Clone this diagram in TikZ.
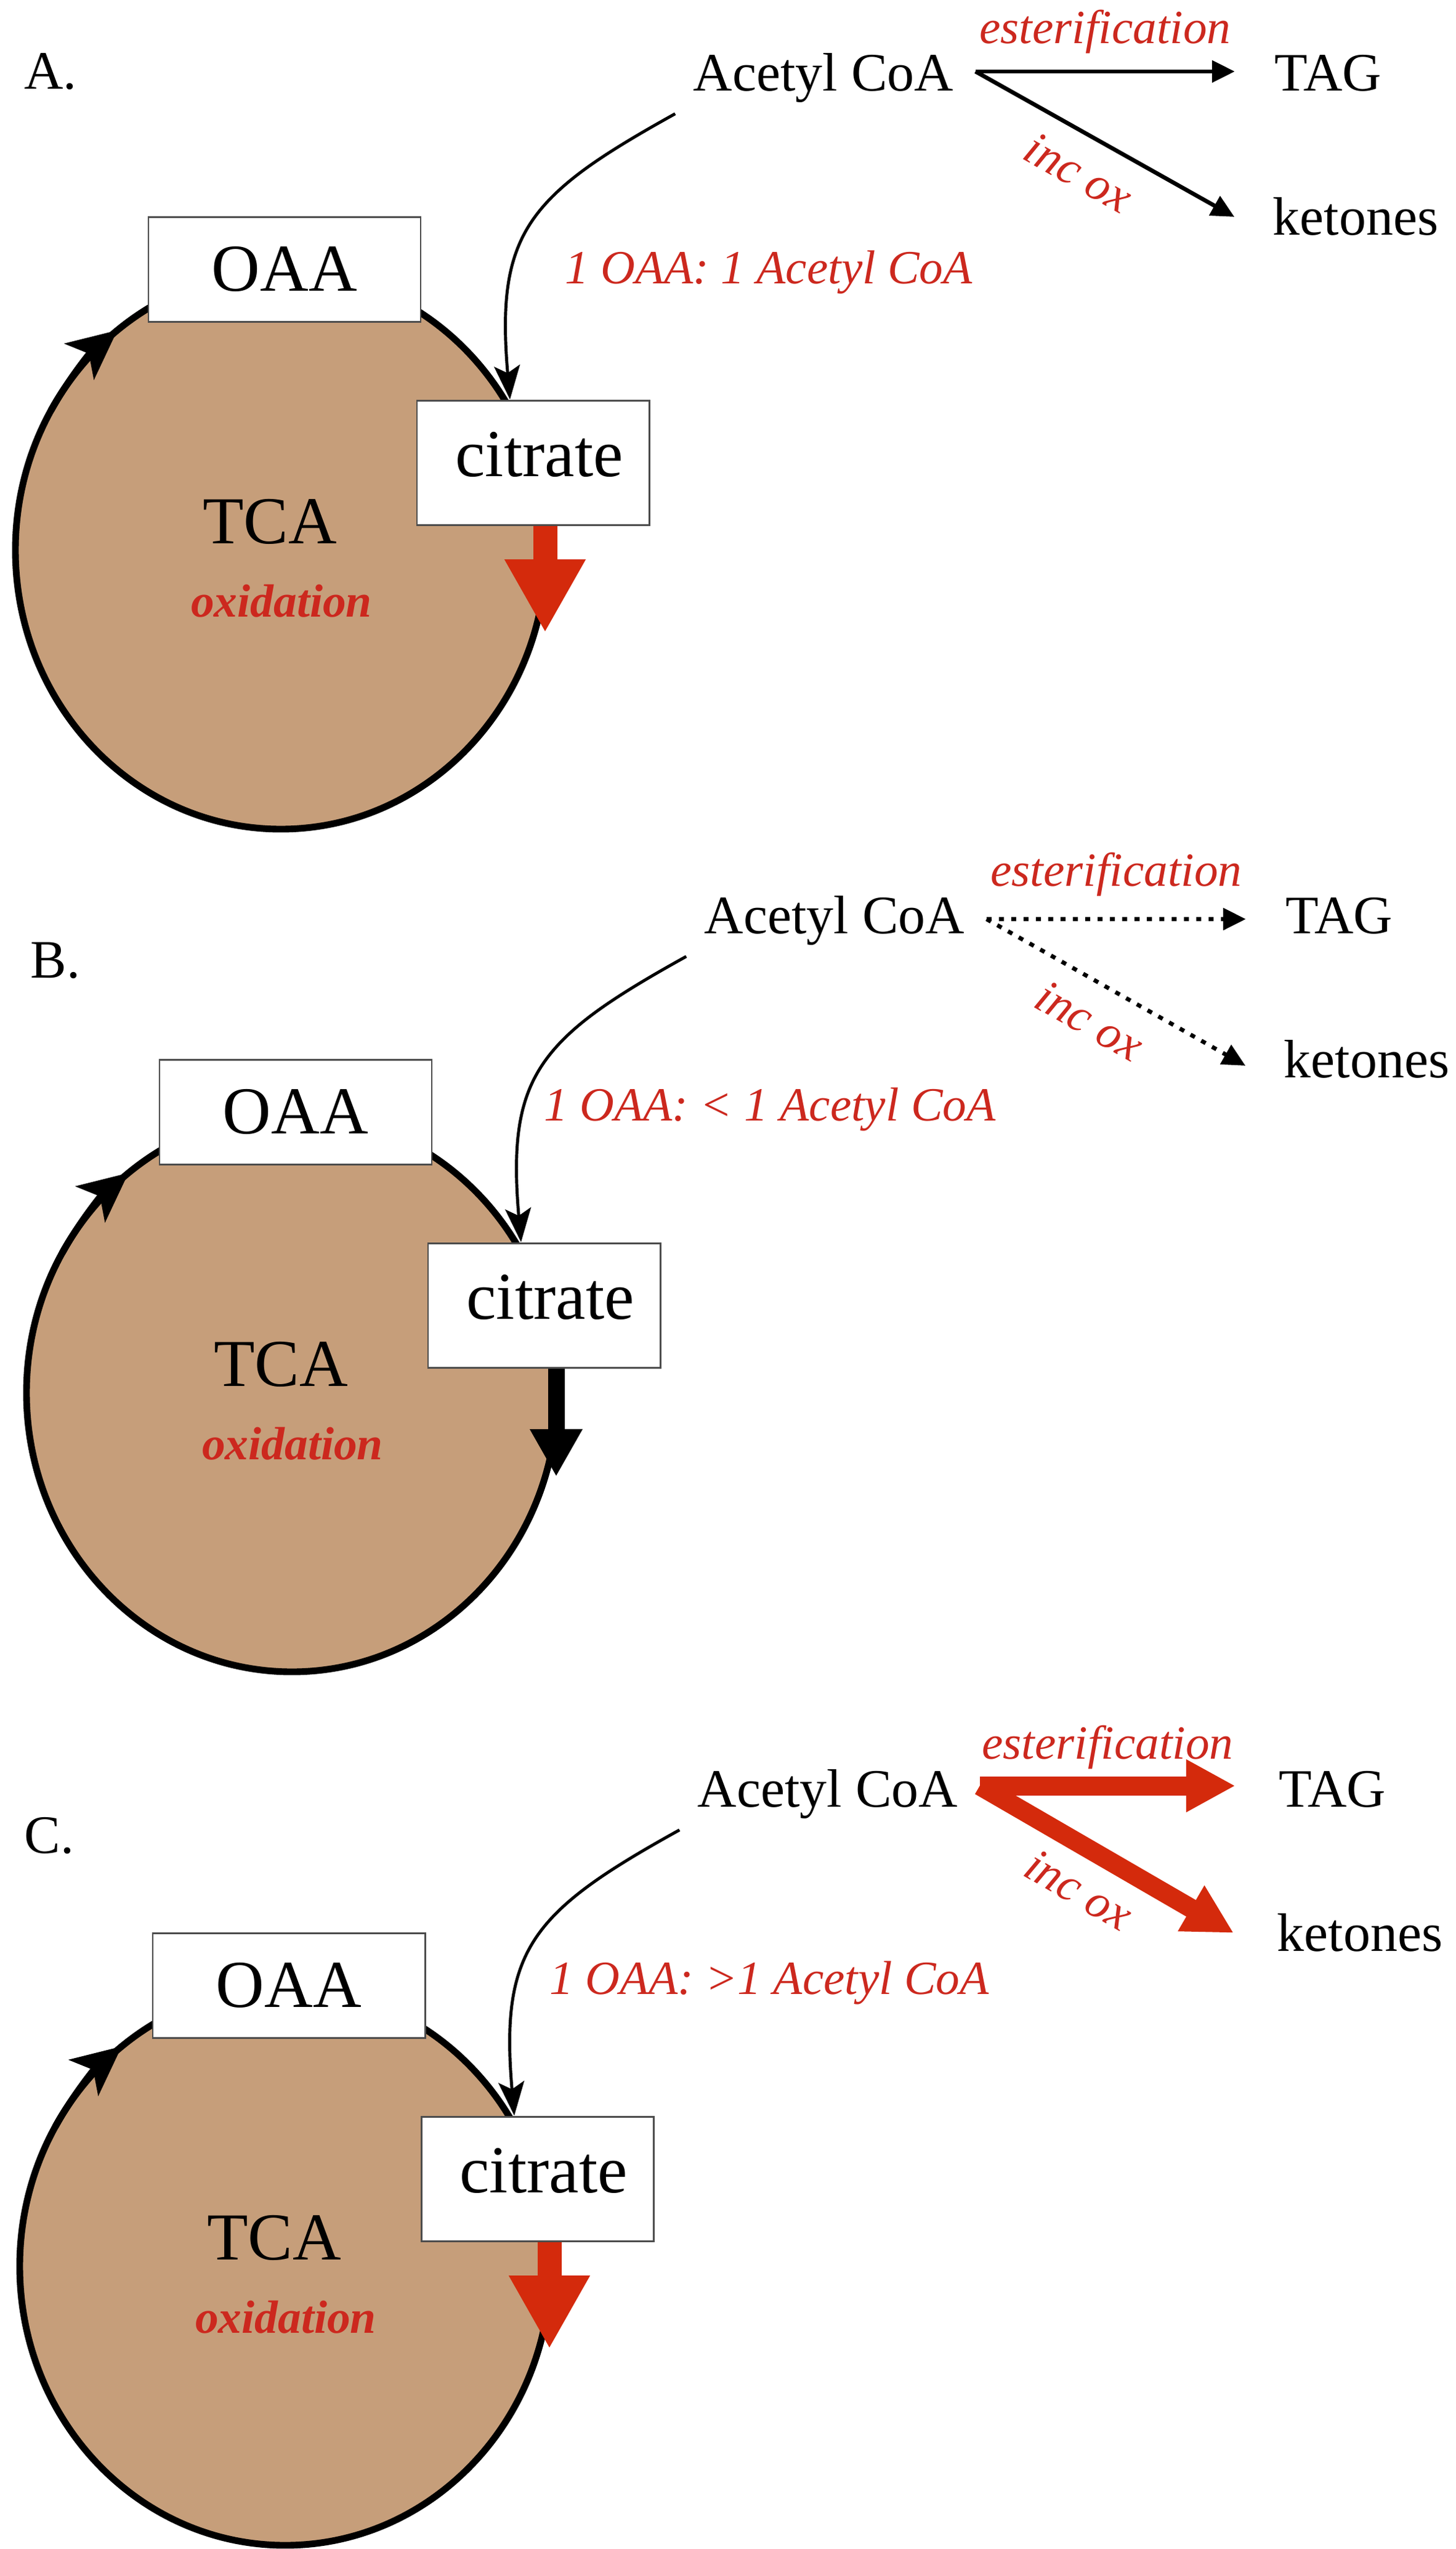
\documentclass[tikz,border=0pt]{standalone}
\usepackage{fontspec}
\setmainfont{Liberation Serif}
\usetikzlibrary{
        arrows.meta,
        positioning
    }
\definecolor{tcabrown}{RGB}{198,158,122}
\definecolor{lblred}{RGB}{204,40,30}
\definecolor{arrred}{RGB}{212,42,12}
\tikzset{>=Stealth,node distance=1cm}
\tikzset{
    tcacycle/.style={draw=black,line width=3.1pt,fill=tcabrown},
    cyclehead/.style={line width=3.1pt,-{Stealth[length=0.8cm,width=0.75cm,inset=0.2cm]}},
    metab/.style={draw=black!70,line width=0.85pt,fill=white,inner sep=0pt,font=\fontsize{31}{36}\selectfont},
    cpd/.style={inner sep=0pt,font=\fontsize{25}{30}\selectfont},
    redlbl/.style={inner sep=0pt,text=lblred,font=\fontsize{22}{26}\selectfont\itshape},
    oxlbl/.style={inner sep=0pt,text=lblred,font=\fontsize{21.5}{26}\selectfont\bfseries\itshape},
    feed/.style={line width=1.4pt,-{Stealth[length=0.55cm,width=0.42cm,inset=0.12cm]}},
    flux/.style={line width=1.9pt,-{Triangle[length=0.37cm,width=0.35cm]}},
    dotflux/.style={flux,dash pattern=on 2.3pt off 3.4pt},
    bigflux/.style={color=arrred,line width=0.31cm,-{Triangle[length=0.8cm,width=0.8cm]}},
    outred/.style={color=arrred,line width=0.39cm,-{Triangle[length=1.19cm,width=1.23cm]}},
    outblack/.style={color=black,line width=0.27cm,-{Triangle[length=0.77cm,width=0.8cm]}}
}

\begin{document}
\begin{tikzpicture}
    \useasboundingbox (0,0) rectangle (23.63,-41.38);
    % panel A
    \begin{scope}
        \draw[tcacycle] (4.56,-8.93) ellipse [x radius=4.31, y radius=4.53];
        \draw[cyclehead] (4.56,-8.93) ++(150:4.31cm and 4.53cm) arc [start angle=150, end angle=128, x radius=4.31, y radius=4.53];
        \node[cpd] (lab1) at (0.82,-1.16) {A.};
        \node[metab,minimum width=4.42cm,minimum height=1.70cm] (oaa1) at (4.62,-4.37) {OAA\hspace{0.8cm}};
        \node[metab,minimum width=3.77cm,minimum height=2.02cm,text depth=0.27cm] (cit1) at (8.655,-7.51) {\hspace{0.2cm}citrate};
        \node[metab,draw=none,fill=none] (tca1) at (4.38,-8.47) {TCA};
        \node[oxlbl] (ox1) [below=0.63cm of tca1,xshift=0.19cm] {oxidation};
        \node[cpd] (aco1) at (13.37,-1.26) {Acetyl CoA};
        \node[cpd] (tag1) [right=5.2cm of aco1,yshift=0.07cm] {TAG};
        \node[cpd] (ket1) at (22.01,-3.51) {ketones};
        \node[redlbl] (rat1) at (12.48,-4.42) {1 OAA: 1 Acetyl CoA};
        \coordinate (out1) at (8.85,-10.27);
        \draw[outred] (cit1.south -| out1) -- (out1);
        \draw[feed] ([shift={(-0.29,-0.18)}]aco1.south west) to[out=209,in=95,looseness=1.3] ([xshift=-0.375cm]cit1.north);
        \path[flux]
            ([shift={(0.35,0.10)}]aco1.east) edge node[redlbl,above=0.26cm] {esterification} ([shift={(-0.64,0.03)}]tag1.west)
            ([shift={(0.35,0.10)}]aco1.east) edge node[redlbl,sloped,below=0.32cm,pos=0.47] {inc ox} ([shift={(-0.62,-0.01)}]ket1.west)
        ;
    \end{scope}
    % panel B
    \begin{scope}[shift={(0.18,-13.68)}]
        \draw[tcacycle] (4.56,-8.93) ellipse [x radius=4.31, y radius=4.53];
        \draw[cyclehead] (4.56,-8.93) ++(150:4.31cm and 4.53cm) arc [start angle=150, end angle=128, x radius=4.31, y radius=4.53];
        \node[cpd] (lab2) at (0.72,-1.91) {B.};
        \node[metab,minimum width=4.42cm,minimum height=1.70cm] (oaa2) at (4.62,-4.37) {OAA\hspace{0.8cm}};
        \node[metab,minimum width=3.77cm,minimum height=2.02cm,text depth=0.27cm] (cit2) at (8.655,-7.51) {\hspace{0.2cm}citrate};
        \node[metab,draw=none,fill=none] (tca2) at (4.38,-8.47) {TCA};
        \node[oxlbl] (ox2) [below=0.63cm of tca2,xshift=0.19cm] {oxidation};
        \node[cpd] (aco2) at (13.37,-1.26) {Acetyl CoA};
        \node[cpd] (tag2) [right=5.2cm of aco2,yshift=0.07cm] {TAG};
        \node[cpd] (ket2) at (22.01,-3.51) {ketones};
        \node[redlbl] (rat2) at (12.32,-4.33) {1 OAA: < 1 Acetyl CoA};
        \coordinate (out2) at (8.85,-10.29);
        \draw[outblack] (cit2.south -| out2) -- (out2);
        \draw[feed] ([shift={(-0.29,-0.18)}]aco2.south west) to[out=209,in=95,looseness=1.3] ([xshift=-0.375cm]cit2.north);
        \path[dotflux]
            ([shift={(0.35,0.02)}]aco2.east) edge node[redlbl,above=0.34cm] {esterification} ([shift={(-0.64,-0.05)}]tag2.west)
            ([shift={(0.35,0.02)}]aco2.east) edge node[redlbl,sloped,below=0.32cm,pos=0.47] {inc ox} ([shift={(-0.62,-0.11)}]ket2.west)
        ;
    \end{scope}
    % panel C
    \begin{scope}[shift={(0.07,-27.86)}]
        \draw[tcacycle] (4.56,-8.93) ellipse [x radius=4.31, y radius=4.53];
        \draw[cyclehead] (4.56,-8.93) ++(150:4.31cm and 4.53cm) arc [start angle=150, end angle=128, x radius=4.31, y radius=4.53];
        \node[cpd] (lab3) at (0.73,-1.94) {C.};
        \node[metab,minimum width=4.42cm,minimum height=1.70cm] (oaa3) at (4.62,-4.37) {OAA\hspace{0.8cm}};
        \node[metab,minimum width=3.77cm,minimum height=2.02cm,text depth=0.27cm] (cit3) at (8.655,-7.51) {\hspace{0.2cm}citrate};
        \node[metab,draw=none,fill=none] (tca3) at (4.38,-8.47) {TCA};
        \node[oxlbl] (ox3) [below=0.63cm of tca3,xshift=0.19cm] {oxidation};
        \node[cpd] (aco3) at (13.37,-1.26) {Acetyl CoA};
        \node[cpd] (tag3) [right=5.2cm of aco3,yshift=0.07cm] {TAG};
        \node[cpd] (ket3) at (22.01,-3.51) {ketones};
        \node[redlbl] (rat3) at (12.42,-4.33) {1 OAA: >1 Acetyl CoA};
        \coordinate (out3) at (8.85,-10.27);
        \draw[outred] (cit3.south -| out3) -- (out3);
        \draw[feed] ([shift={(-0.29,-0.18)}]aco3.south west) to[out=209,in=95,looseness=1.3] ([xshift=-0.375cm]cit3.north);
        \path[bigflux]
            ([shift={(0.35,0.13)}]aco3.east) edge node[redlbl,above=0.12cm] {esterification} ([shift={(-0.70,0.06)}]tag3.west)
            ([shift={(0.35,0.13)}]aco3.east) edge node[redlbl,sloped,below=0.24cm,pos=0.47] {inc ox} ([shift={(-0.70,-0.01)}]ket3.west)
        ;
    \end{scope}
\end{tikzpicture}
\end{document}
